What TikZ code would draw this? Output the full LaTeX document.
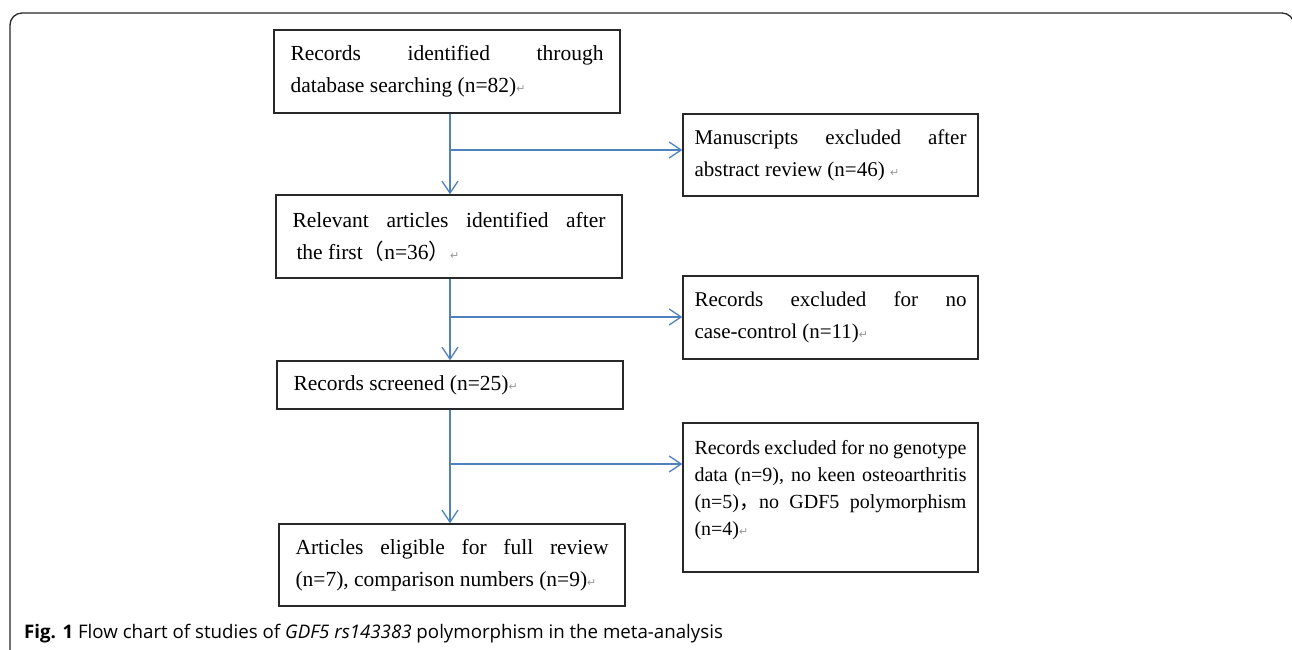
\documentclass[tikz,border=0pt]{standalone}
\usepackage{fontspec}
\setmainfont{Liberation Serif}
\newfontfamily\cjk{Noto Sans CJK SC}
\newfontfamily\symfont{DejaVu Sans}
\newfontfamily\capfont{Open Sans}
\usetikzlibrary{arrows.meta}
\definecolor{flowblue}{RGB}{79,129,189}
\definecolor{boxgray}{RGB}{40,40,40}
\newcommand{\retmark}{{\symfont\fontsize{11}{11}\selectfont\color{gray!80}↵}}
\tikzset{
  stagebox/.style={draw=boxgray, line width=1.4pt, text width=313pt, minimum width=346pt,
    align=justify, font=\fontsize{21.5}{32}\selectfont, inner sep=0pt},
  exclbox/.style={draw=boxgray, line width=1.4pt, text width=272pt, minimum width=295pt,
    align=justify, font=\fontsize{21}{32}\selectfont, inner sep=0pt},
  flow/.style={flowblue, line width=1.3pt},
  flowarrow/.style={flow, -{Straight Barb[length=12pt,width=16pt,line width=1.3pt]}}
}
\begin{document}
\begin{tikzpicture}[x=1pt,y=-1pt]
\useasboundingbox (0,0) rectangle (1292,649);
\draw[boxgray, line width=1.3pt, rounded corners=12pt] (10,660) -- (10,13) -- (1294,13) -- (1294,660);
\node[stagebox, minimum height=83pt] (ident) at (447,71.5) {Records identified through\linebreak database searching (n=82)\retmark};
\node[stagebox, minimum height=83pt] (relev) at (449,236.5) {Relevant articles identified after\linebreak \hspace*{4pt}the first{\cjk （}n=36{\cjk ）}\retmark};
\node[stagebox, minimum height=48pt] (screen) at (450,385) {Records screened (n=25)\retmark};
\node[stagebox, minimum height=82pt] (elig) at (452,565) {Articles eligible for full review\linebreak (n=7), comparison numbers (n=9)\retmark};
\node[exclbox, minimum height=82pt] (manus) at (830.5,155) {Manuscripts excluded after\linebreak abstract review (n=46) \retmark};
\node[exclbox, minimum height=83pt] (cases) at (830.5,317.5) {Records excluded for no\linebreak case-control (n=11)\retmark};
\node[exclbox, minimum height=149pt, font=\fontsize{20}{27}\selectfont] (geno) at (830.5,497.5) {Records excluded for no genotype\linebreak data (n=9), no keen osteoarthritis\linebreak (n=5){\cjk ，}no GDF5 polymorphism\linebreak (n=4)\retmark\par\kern14pt\hrule height 0pt width 0pt};
\coordinate (br1) at (450,150);
\coordinate (br2) at (450,317);
\coordinate (br3) at (450,464);
\draw[flowarrow] (ident.south -| br1) -- (relev.north -| br1);
\draw[flowarrow] (relev.south -| br1) -- (screen.north -| br1);
\draw[flowarrow] (screen.south -| br1) -- (elig.north -| br1);
\draw[flowarrow] (br1) -- (br1 -| manus.west);
\draw[flowarrow] (br2) -- (br2 -| cases.west);
\draw[flowarrow] (br3) -- (br3 -| geno.west);
\node[anchor=base west, inner sep=0pt, font=\capfont\fontsize{18.7}{18.7}\selectfont] (caption) at (24,638) {\textbf{Fig. 1} Flow chart of studies of \textit{GDF5 rs143383} polymorphism in the meta-analysis};
\end{tikzpicture}
\end{document}
